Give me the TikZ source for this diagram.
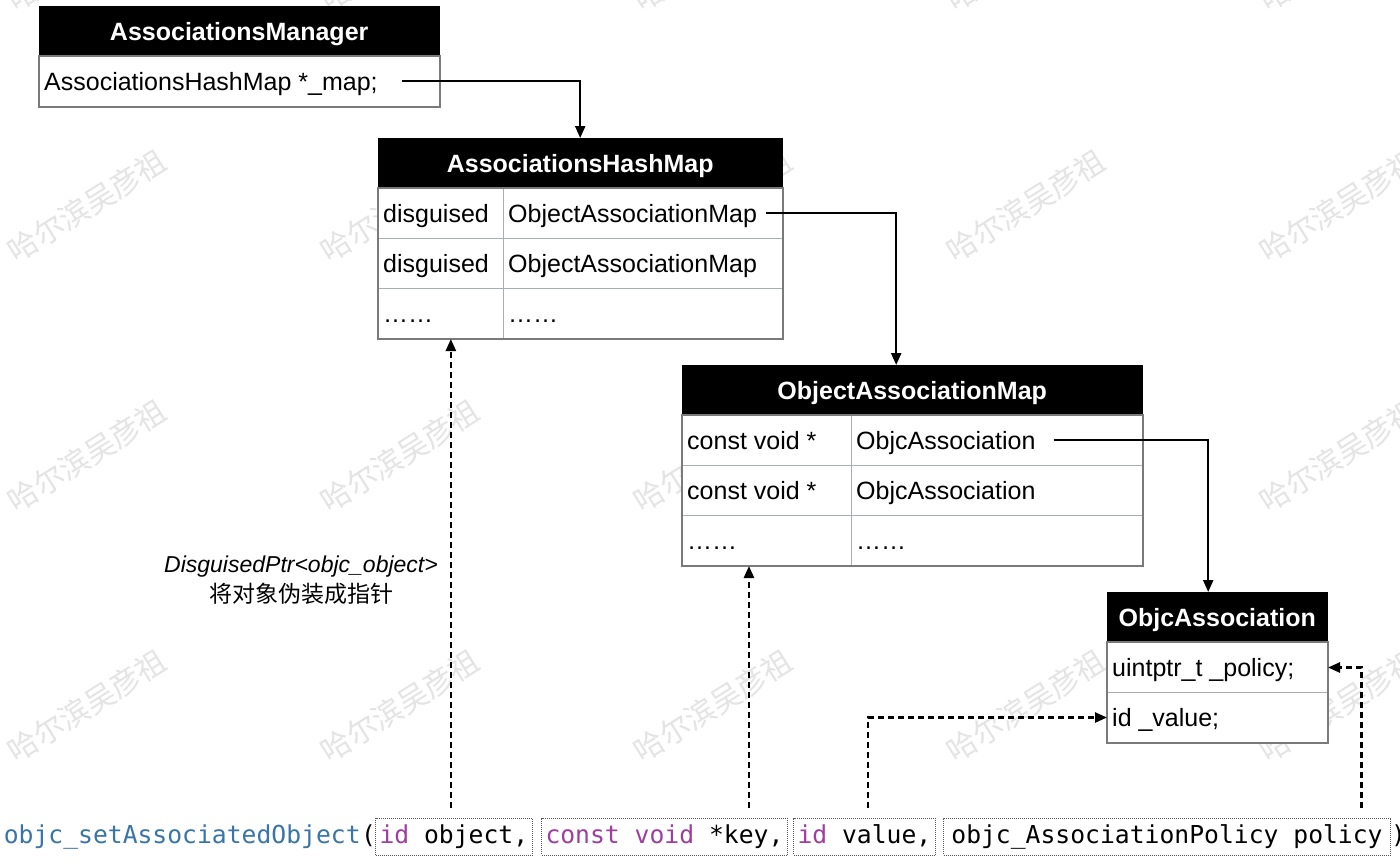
\documentclass[tikz,border=0pt]{standalone}
\usepackage{fontspec}
\setmainfont{Liberation Sans}
\setmonofont{DejaVu Sans Mono}
\newfontfamily\cjk{Noto Sans CJK SC}
\usetikzlibrary{arrows.meta,calc}
\definecolor{sepc}{HTML}{A9AEB3}
\definecolor{outl}{HTML}{7A7A7A}
\definecolor{codeblue}{HTML}{3A75A8}
\definecolor{kw}{HTML}{9E3E9E}
\definecolor{wm}{HTML}{E4E4E4}
\tikzset{
 hdr/.style={fill=black, draw=black, text=white, font=\fontsize{25}{30}\selectfont\bfseries, minimum height=50pt, inner sep=0pt, text height=18pt, text depth=0pt, anchor=north west},
 cell/.style={fill=white, draw=sepc, line width=1pt, minimum height=50pt, inner sep=0pt, anchor=north west},
 txt/.style={font=\fontsize{25}{30}\selectfont, inner sep=0pt, text height=18pt, text depth=0pt, anchor=west},
 frame/.style={draw=outl, line width=1.2pt},
 conn/.style={line width=2.2pt, -{Triangle[length=12pt,width=10pt]}},
 dconn/.style={line width=2.5pt, dash pattern=on 6pt off 4pt, -{Triangle[length=12pt,width=10pt]}},
 codef/.style={font=\fontsize{24.7}{30}\ttfamily},
 arg/.style={codef, draw=black!65, densely dotted, line width=1pt, minimum height=37pt, text height=19pt, text depth=6pt, inner xsep=4pt, inner ysep=0pt, anchor=west},
 wmk/.style={text=wm, rotate=32, font=\cjk\fontsize{30}{30}\selectfont, inner sep=0pt}
}
\begin{document}
\begin{tikzpicture}[x=1pt,y=-1pt]
\useasboundingbox[fill=white] (0,0) rectangle (1400,863);
% watermark
\foreach \wy in {-45,206,456,706}{
  \foreach \wx in {87,400,713,1026,1339}{
    \node[wmk] at (\wx,\wy) {哈尔滨吴彦祖};
  }
}
% AssociationsManager
\node[hdr, minimum width=400pt] (amH) at (39,6) {AssociationsManager};
\node[cell, minimum width=400pt] (amR) at (39,56) {};
\draw[frame] (amR.north west) rectangle (amR.south east);
\node[txt] (amT) at (44,81) {AssociationsHashMap *\_map;};
% AssociationsHashMap
\node[hdr, minimum width=404pt] (hmH) at (378,138) {AssociationsHashMap};
\node[cell, minimum width=125pt] (hmK1) at (378,188) {};
\node[cell, minimum width=279pt] (hmV1) at (503,188) {};
\node[cell, minimum width=125pt] (hmK2) at (378,238) {};
\node[cell, minimum width=279pt] (hmV2) at (503,238) {};
\node[cell, minimum width=125pt] (hmK3) at (378,288) {};
\node[cell, minimum width=279pt] (hmV3) at (503,288) {};
\draw[frame] (hmK1.north west) rectangle (hmV3.south east);
\node[txt] (hmk1) at (383,213) {disguised};
\node[txt] (hmv1) at (508,213) {ObjectAssociationMap};
\node[txt] (hmk2) at (383,263) {disguised};
\node[txt] (hmv2) at (508,263) {ObjectAssociationMap};
\node[txt] (hmk3) at (383,313) {……};
\node[txt] (hmv3) at (508,313) {……};
% ObjectAssociationMap
\node[hdr, minimum width=460pt] (omH) at (682,365) {ObjectAssociationMap};
\node[cell, minimum width=169pt] (omK1) at (682,415) {};
\node[cell, minimum width=291pt] (omV1) at (851,415) {};
\node[cell, minimum width=169pt] (omK2) at (682,465) {};
\node[cell, minimum width=291pt] (omV2) at (851,465) {};
\node[cell, minimum width=169pt] (omK3) at (682,515) {};
\node[cell, minimum width=291pt] (omV3) at (851,515) {};
\draw[frame] (omK1.north west) rectangle (omV3.south east);
\node[txt] (omk1) at (687,440) {const void *};
\node[txt] (omv1) at (856,440) {ObjcAssociation};
\node[txt] (omk2) at (687,490) {const void *};
\node[txt] (omv2) at (856,490) {ObjcAssociation};
\node[txt] (omk3) at (687,540) {……};
\node[txt] (omv3) at (856,540) {……};
% ObjcAssociation
\node[hdr, minimum width=220pt] (oaH) at (1107,592) {ObjcAssociation};
\node[cell, minimum width=220pt] (oaR1) at (1107,642) {};
\node[cell, minimum width=220pt] (oaR2) at (1107,692) {};
\draw[frame] (oaR1.north west) rectangle (oaR2.south east);
\node[txt] (oa1) at (1112,667) {uintptr\_t \_policy;};
\node[txt] (oa2) at (1112,717) {id \_value;};
% solid connectors
\draw[conn] ([xshift=24pt]amT.east) -| (hmH.north);
\draw[conn] ([xshift=9pt]hmv1.east) -| ([xshift=-16pt]omH.north);
\draw[conn] ([xshift=18pt]omv1.east) -| ([xshift=-9pt]oaH.north);
% label
\node[font=\fontsize{23}{30}\selectfont, align=center] (lbl) at (301,580) {\textit{DisguisedPtr<objc\_object>}\\{\cjk 将对象伪装成指针}};
% code line
\node[codef, text=codeblue, anchor=base west, inner sep=0pt] (fn) at (3.6,843) {objc\_setAssociatedObject};
\node[codef, anchor=base west, inner sep=0pt] (lp) at (fn.base east) {(};
\node[arg] (argObj) at (375,836.5) {\textcolor{kw}{id} object,};
\node[arg] (argKey) at (541,836.5) {\textcolor{kw}{const} \textcolor{kw}{void} *key,};
\node[arg] (argVal) at (793,836.5) {\textcolor{kw}{id} value,};
\node[arg, minimum width=447pt, align=left] (argPol) at (943,836.5) {objc\_AssociationPolicy policy};
\node[codef, anchor=west, inner sep=0pt, text height=19pt, text depth=6pt] (rp) at (argPol.east) {)};
% dashed connectors
\coordinate (sA) at ($(argObj.north)+(-3,-10)$);
\coordinate (sB) at ($(argKey.north)+(84.5,-10)$);
\coordinate (sC) at ($(argVal.north)+(3.5,-10)$);
\coordinate (sD) at ($(argPol.north)+(194.5,-10)$);
\draw[dconn] (sA) -- (sA |- hmK3.south);
\draw[dconn] (sB) -- (sB |- omK3.south);
\draw[dconn] (sC) |- (oaR2.west);
\draw[dconn] (sD) |- (oaR1.east);
\end{tikzpicture}
\end{document}
